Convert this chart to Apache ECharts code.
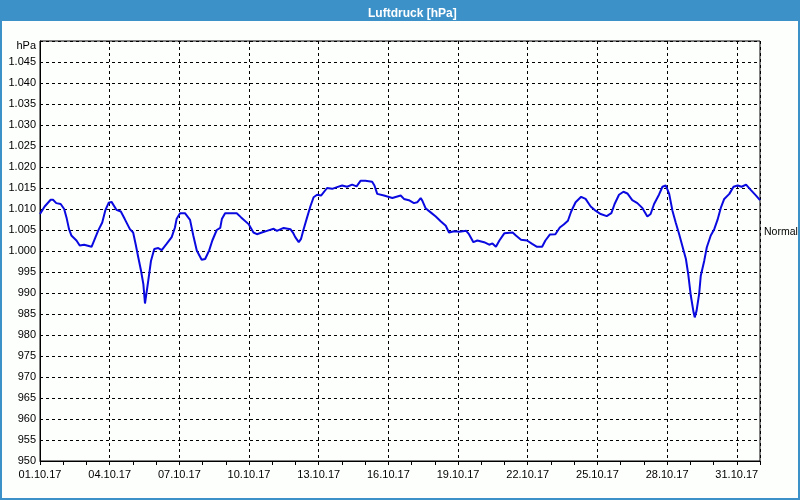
<!DOCTYPE html>
<html>
<head>
<meta charset="utf-8">
<script src="https://cdn.jsdelivr.net/npm/echarts@6/dist/echarts.min.js"></script>
<style>
html,body{margin:0;padding:0;background:#fdfffd;}
#chart{width:800px;height:500px;}
</style>
</head>
<body>
<div id="chart"></div>
<script>
// Day offsets from 01.10.17 00:00
const dayOffsets = [
  0, 0.2, 0.46, 0.56, 0.7, 0.89, 1.04, 1.14, 1.25, 1.35, 1.57, 1.71, 1.9, 2.22, 2.36, 2.5, 2.68, 2.82, 2.96, 3.08,
  3.29, 3.48, 3.65, 3.87, 4.01, 4.13, 4.23, 4.35, 4.45, 4.52, 4.6, 4.66, 4.78, 4.92, 5.09, 5.24, 5.45, 5.67, 5.81, 5.88,
  6.03, 6.24, 6.46, 6.6, 6.75, 6.96, 7.11, 7.28, 7.42, 7.61, 7.76, 7.83, 7.97, 8.47, 8.66, 8.98, 9.19, 9.34, 9.55, 9.77,
  10.06, 10.2, 10.49, 10.78, 10.89, 10.99, 11.14, 11.24, 11.35, 11.5, 11.64, 11.78, 11.93, 12.1, 12.36, 12.58, 12.79, 13.01, 13.22, 13.44,
  13.63, 13.8, 14.01, 14.3, 14.4, 14.52, 14.81, 15.17, 15.53, 15.67, 15.88, 16.1, 16.24, 16.39, 16.46, 16.6, 16.82, 17.04, 17.25, 17.47,
  17.61, 17.83, 18.06, 18.35, 18.47, 18.66, 18.83, 19.12, 19.34, 19.48, 19.63, 19.78, 19.99, 20.35, 20.49, 20.71, 20.97, 21.19, 21.4, 21.62,
  21.76, 21.95, 22.19, 22.38, 22.55, 22.73, 22.87, 23.06, 23.3, 23.49, 23.71, 23.92, 24.14, 24.4, 24.6, 24.74, 24.93, 25.12, 25.29, 25.5,
  25.72, 25.94, 26.15, 26.29, 26.44, 26.65, 26.8, 26.94, 27.09, 27.23, 27.37, 27.52, 27.71, 27.81, 27.91, 28.02, 28.14, 28.19, 28.27, 28.38,
  28.45, 28.6, 28.71, 28.88, 29.03, 29.17, 29.32, 29.46, 29.68, 29.86, 30.04, 30.21, 30.4, 30.61, 30.83, 31
];
// Air pressure in hPa
const pressure = [
  1008.8, 1010.6, 1012.2, 1012.2, 1011.4, 1011.2, 1010.0, 1008.0, 1005.2, 1003.7, 1002.5, 1001.3, 1001.5, 1001.0, 1002.9, 1004.8, 1006.8, 1009.8, 1011.5, 1011.7,
  1009.8, 1009.4, 1007.6, 1005.2, 1004.4, 1001.3, 998.5, 995.3, 992.1, 987.5, 987.5, 992.9, 997.7, 1000.5, 1000.7, 1000.2, 1001.7, 1003.3, 1005.6, 1007.6,
  1009.0, 1009.0, 1007.4, 1003.7, 1000.1, 997.9, 998.1, 1000.1, 1002.5, 1005.0, 1005.5, 1007.6, 1009.0, 1009.0, 1008.0, 1006.4, 1004.4, 1004.0, 1004.4, 1004.8,
  1005.3, 1004.8, 1005.5, 1005.2, 1004.4, 1003.3, 1002.1, 1002.9, 1005.2, 1008.0, 1010.6, 1012.8, 1013.4, 1013.2, 1015.0, 1014.8, 1015.2, 1015.6, 1015.3, 1015.8,
  1015.4, 1016.7, 1016.7, 1016.5, 1015.6, 1013.6, 1013.2, 1012.6, 1013.2, 1012.4, 1012.1, 1011.4, 1011.6, 1012.6, 1012.0, 1010.2, 1009.2, 1008.2, 1007.1, 1006.0,
  1004.4, 1004.7, 1004.6, 1004.8, 1004.0, 1002.1, 1002.5, 1002.1, 1001.5, 1001.8, 1001.0, 1002.5, 1004.2, 1004.4, 1003.7, 1002.7, 1002.5, 1001.7, 1001.0, 1001.0,
  1002.5, 1003.9, 1004.0, 1005.6, 1006.3, 1007.2, 1009.4, 1011.6, 1012.9, 1012.4, 1010.6, 1009.6, 1008.8, 1008.3, 1009.0, 1011.2, 1013.4, 1014.1, 1013.7, 1012.1,
  1011.4, 1010.2, 1008.2, 1008.8, 1011.2, 1013.4, 1015.3, 1015.6, 1013.6, 1009.6, 1006.8, 1004.0, 1000.1, 998.1, 994.5, 989.4, 985.4, 984.2, 985.8, 989.8,
  994.1, 997.7, 1000.9, 1003.7, 1005.2, 1007.4, 1010.4, 1012.4, 1013.6, 1015.3, 1015.6, 1015.3, 1015.8, 1014.5, 1013.2, 1012.1
];
const normalValue = 1004.5;
const titleText = 'Luftdruck [hPa]';
const unitLabel = 'hPa';
const normalLabel = 'Normal';

const FONT = 'Liberation Sans';
const seriesData = dayOffsets.map((d, i) => [d, pressure[i]]);

function fmtDay(v) {
  const dd = String(Math.round(v) + 1).padStart(2, '0');
  return dd + '.10.17';
}
function fmtPressure(v) {
  if (v >= 1050) return '{u|' + unitLabel + '}';
  if (v >= 1000) return '1.' + String(Math.round(v - 1000)).padStart(3, '0');
  return String(Math.round(v));
}

const chart = echarts.init(document.getElementById('chart'));
const blue = '#3c91c8';
chart.setOption({
  backgroundColor: '#fdfffd',
  animation: false,
  title: {
    text: titleText,
    left: 363,
    top: 3,
    textStyle: { color: '#ffffff', fontFamily: FONT, fontSize: 12, fontWeight: 'bold' }
  },
  graphic: [
    { type: 'rect', z: -1, shape: { x: 0, y: 0, width: 800, height: 21 }, style: { fill: blue } },
    { type: 'rect', z: -1, shape: { x: 0, y: 0, width: 2, height: 500 }, style: { fill: blue } },
    { type: 'rect', z: -1, shape: { x: 798, y: 0, width: 2, height: 500 }, style: { fill: blue } },
    { type: 'rect', z: -1, shape: { x: 0, y: 498, width: 800, height: 2 }, style: { fill: blue } }
  ],
  grid: {
    left: 40, right: 40, top: 41, bottom: 39,
    show: true, borderColor: '#000', borderWidth: 1, backgroundColor: 'transparent'
  },
  xAxis: {
    type: 'value', min: 0, max: 31, interval: 3,
    axisLine: { show: true, lineStyle: { color: '#000', width: 1 } },
    axisTick: { show: true, length: 4, lineStyle: { color: '#000' } },
    minorTick: { show: true, splitNumber: 3, length: 4, lineStyle: { color: '#000' } },
    axisLabel: {
      color: '#000', fontFamily: FONT, fontSize: 11, margin: 8,
      showMaxLabel: false,
      formatter: v => (v % 3 === 0 && v <= 30) ? fmtDay(v) : ''
    },
    splitLine: { show: true, lineStyle: { color: '#000', width: 1, type: [3, 3] } }
  },
  yAxis: {
    type: 'value', min: 950, max: 1050, interval: 5,
    axisLine: { show: true, lineStyle: { color: '#000' } },
    axisTick: { show: false },
    axisLabel: {
      color: '#000', fontFamily: FONT, fontSize: 11, margin: 4,
      formatter: fmtPressure,
      rich: { u: { color: '#000', fontFamily: FONT, fontSize: 11, padding: [10, 0, 0, 0] } }
    },
    splitLine: { show: true, lineStyle: { color: '#000', width: 1, type: [3, 3] } }
  },
  series: [{
    type: 'line',
    data: seriesData,
    showSymbol: false,
    smooth: false,
    lineStyle: { color: '#0a0ae0', width: 2 },
    markLine: {
      silent: true,
      symbol: 'none',
      lineStyle: { color: 'rgba(0,0,0,0)', width: 0 },
      label: { show: true, position: 'end', distance: 4, formatter: normalLabel, color: '#000', fontFamily: FONT, fontSize: 10.5 },
      data: [{ yAxis: normalValue }]
    }
  }]
});
</script>
</body>
</html>
